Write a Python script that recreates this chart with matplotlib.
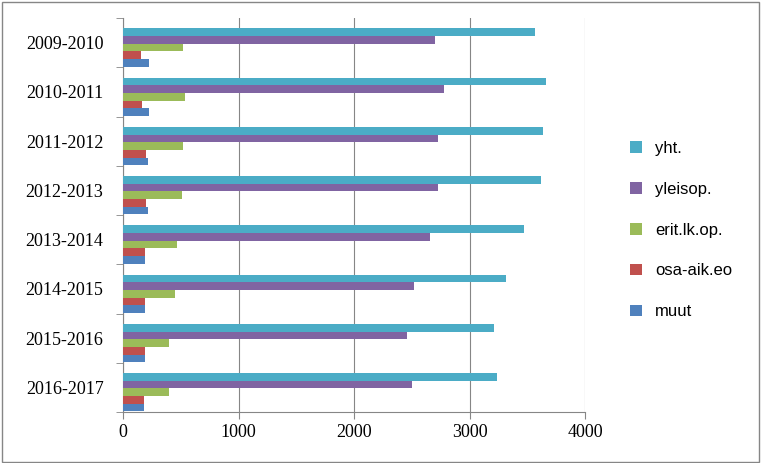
import matplotlib
matplotlib.use("Agg")
import matplotlib.pyplot as plt
import numpy as np

years = ["2009-2010","2010-2011","2011-2012","2012-2013","2013-2014","2014-2015","2015-2016","2016-2017"]
muut = [225, 225, 216, 216, 190, 190, 190, 180]
osa = [156, 165, 200, 200, 190, 190, 190, 180]
erit = [519, 537, 520, 510, 468, 450, 398, 398]
yleisop = [2700, 2780, 2730, 2730, 2660, 2520, 2460, 2500]
yht = [3570, 3660, 3640, 3620, 3470, 3320, 3210, 3240]

series = [("muut", muut, "#4F81BD"), ("osa-aik.eo", osa, "#C0504D"),
          ("erit.lk.op.", erit, "#9BBB59"), ("yleisop.", yleisop, "#8064A2"),
          ("yht.", yht, "#4BACC6")]

fig = plt.figure(figsize=(7.61, 4.63), dpi=100)
ax = fig.add_axes([123/761, 1-412/463, (585-123)/761, (412-18)/463])
n = len(years)
pos = np.arange(n)[::-1]
h = 0.155
for i, (name, vals, c) in enumerate(series):
    ax.barh(pos - 0.1 + (i - 2) * h, vals, height=h, color=c, label=name, zorder=3)
ax.set_xlim(0, 4000)
ax.set_ylim(-0.5, n - 0.5)
ax.set_xticks([0, 1000, 2000, 3000, 4000])
ax.set_yticks(pos)
ax.set_yticklabels(years)
ax.set_yticks(np.arange(n + 1) - 0.5, minor=True)
ax.tick_params(axis="y", which="major", length=0, pad=14)
ax.tick_params(axis="y", which="minor", length=5, color="#868686")
ax.tick_params(axis="x", length=5, color="#868686")
ax.tick_params(labelsize=13)
for lab in ax.get_xticklabels() + ax.get_yticklabels():
    lab.set_fontfamily("Liberation Serif")
ax.grid(axis="x", color="#868686", linewidth=0.8, zorder=0)
for s in ["top", "right"]:
    ax.spines[s].set_visible(False)
for s in ["left", "bottom"]:
    ax.spines[s].set_color("#868686")
handles, labels = ax.get_legend_handles_labels()
fig.legend(handles[::-1], labels[::-1], loc="center left", bbox_to_anchor=(615/761, 1-230/463),
           frameon=False, prop={"family": "Liberation Sans", "size": 12},
           handlelength=0.7, handleheight=0.7, labelspacing=1.55)
fig.patches.append(plt.Rectangle((0.002, 0.003), 0.995, 0.993, transform=fig.transFigure,
                                 fill=False, edgecolor="#868686", linewidth=1))
fig.savefig("out.png", dpi=100)
